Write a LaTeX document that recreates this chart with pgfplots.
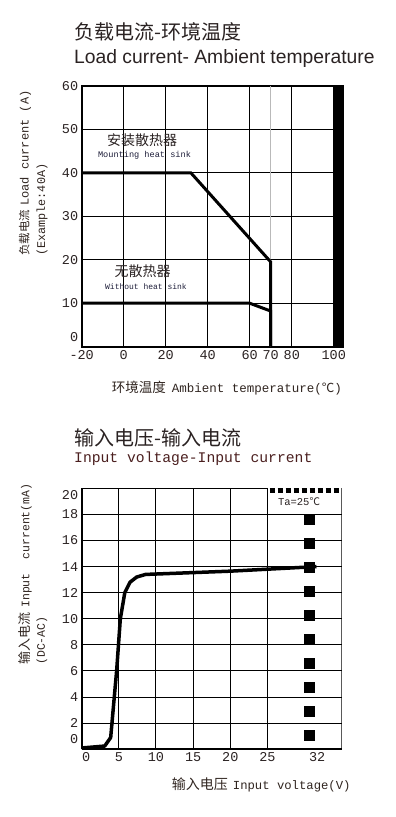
\documentclass[border=0pt]{standalone}
\usepackage{pgfplots}
\pgfplotsset{compat=1.18}
\usepackage{fontspec}
\setmainfont{Liberation Mono}
\newfontfamily\cjk{Noto Sans CJK SC}
\newfontfamily\arial{Liberation Sans}
\newcommand\fs[1]{\fontsize{#1bp}{#1bp}\selectfont}
\definecolor{lab}{HTML}{302520}
\definecolor{tit}{HTML}{2A2222}
\definecolor{titr}{HTML}{4A1E1E}
\definecolor{small}{HTML}{1C1C38}
\begin{document}
\begin{tikzpicture}
\useasboundingbox (0,0) rectangle (396bp,817bp);
% ---------- top titles
\node[anchor=west, inner sep=0, text=tit] at (74bp,785.3bp) {\cjk\fs{20}负载电流-环境温度};
\node[anchor=west, inner sep=0, text=tit] at (74bp,758bp) {\arial\fs{19.3}Load current- Ambient temperature};
% ---------- top axis
\begin{axis}[
  at={(81.7bp,470.3bp)}, anchor=south west,
  scale only axis, width=261.3bp, height=260.7bp,
  xmin=-20, xmax=104.4, ymin=0, ymax=60,
  xtick={-20,0,20,40,60,80,100},
  xticklabels={-20,0,20,40,60,80,100},
  extra x ticks={70}, extra x tick labels={70},
  extra x tick style={major grid style={gray!55, line width=0.8bp}},
  ytick={10,20,30,40,50,60},
  yticklabels={10,20,30,40,50,60},
  extra y ticks={2.3}, extra y tick labels={0},
  extra y tick style={grid=none},
  major tick length=0pt,
  grid=major, major grid style={black, line width=1bp},
  axis line style={black, line width=2bp},
  ticklabel style={font=\fs{13.5}, text=tit},
  /pgf/number format/assume math mode=true,
]
\addplot[black, fill=black, draw=none] coordinates {(100,0)(104.4,0)(104.4,60)(100,60)(100,0)};
\addplot[black, line width=3bp, line join=miter] coordinates {(-20,40)(32,40)(70,19.5)(70,0)};
\addplot[black, line width=3bp, line join=miter] coordinates {(-20,10)(60,10)(70,8.2)(70,0)};
\end{axis}
\node[inner sep=0, text=tit] at (142bp,677bp) {\cjk\fs{14}安装散热器};
\node[inner sep=0, text=small] at (144.5bp,661.3bp) {\fs{8.6}Mounting heat sink};
\node[inner sep=0, text=tit] at (142.5bp,546bp) {\cjk\fs{14}无散热器};
\node[inner sep=0, text=small] at (146bp,530.3bp) {\fs{8}Without heat sink};
% top axis labels
\node[anchor=west, inner sep=0, text=lab] at (111.7bp,429bp) {{\cjk\fs{13.5}环境温度}\hspace{6bp}{\fs{12.5}Ambient temperature(}{\cjk\fs{12.5}℃}{\fs{12.5})}};
\node[anchor=west, inner sep=0, rotate=90, text=lab] at (25bp,561bp) {{\cjk\fs{11.5}负载电流}\hspace{4bp}{\fs{12}Load current (A)}};
\node[anchor=west, inner sep=0, rotate=90, text=lab] at (42bp,561bp) {\fs{11.8}(Example:40A)};
% ---------- bottom titles
\node[anchor=west, inner sep=0, text=tit] at (74bp,379bp) {\cjk\fs{20}输入电压-输入电流};
\node[anchor=west, inner sep=0, text=titr] at (74bp,358bp) {\fs{14.7}Input voltage-Input current};
% ---------- bottom axis
\begin{axis}[
  at={(81.7bp,67.7bp)}, anchor=south west,
  scale only axis, width=260bp, height=261bp,
  xmin=0, xmax=35, ymin=0, ymax=20,
  axis x line*=bottom, axis y line*=left,
  xtick={5,10,15,20,25},
  xticklabels={5,10,15,20,25},
  extra x ticks={0.6,31.7}, extra x tick labels={0,32},
  extra x tick style={grid=none},
  ytick={2,4,6,8,10,12,14,16,18},
  yticklabels={2,4,6,8,10,12,14,16,18},
  extra y ticks={0.75,19.45}, extra y tick labels={0,20},
  extra y tick style={grid=none},
  major tick length=0pt,
  grid=major, major grid style={black, line width=1bp},
  axis line style={black, line width=2bp, -},
  ticklabel style={font=\fs{13.5}, text=tit},
  /pgf/number format/assume math mode=true,
]
\draw[black, line width=2bp] (rel axis cs:1,0) -- (rel axis cs:1,1);
\draw[black, line width=2bp] (rel axis cs:0,1) -- (axis cs:25,20);
\draw[black, line width=5bp, dash pattern=on 5bp off 3bp] (axis cs:25.3,19.82) -- (axis cs:35,19.82);
\addplot[black, line width=11bp, dash pattern=on 11bp off 13bp] coordinates {(30.7,18)(30.7,0)};
\addplot[black, line width=3.5bp, line join=round] coordinates {(0,0.1)(3.1,0.25)(3.9,0.9)(4.7,6)(5.2,10)(5.8,12)(6.5,12.8)(7.4,13.2)(8.6,13.4)(20,13.65)(31.6,14)};
\end{axis}
\node[inner sep=0, text=tit] at (299bp,315.3bp) {\fs{10.5}Ta=25{\cjk ℃}};
\node[anchor=west, inner sep=0, text=lab] at (171.7bp,32bp) {{\cjk\fs{14}输入电压}\hspace{5bp}{\fs{12.25}Input voltage(V)}};
\node[anchor=west, inner sep=0, rotate=90, text=lab] at (25bp,152bp) {{\cjk\fs{13}输入电流}\hspace{5bp}{\fs{11.5}Input\ \ current(mA)}};
\node[anchor=west, inner sep=0, rotate=90, text=lab] at (42bp,152bp) {\fs{11.5}(DC-AC)};
\end{tikzpicture}
\end{document}
